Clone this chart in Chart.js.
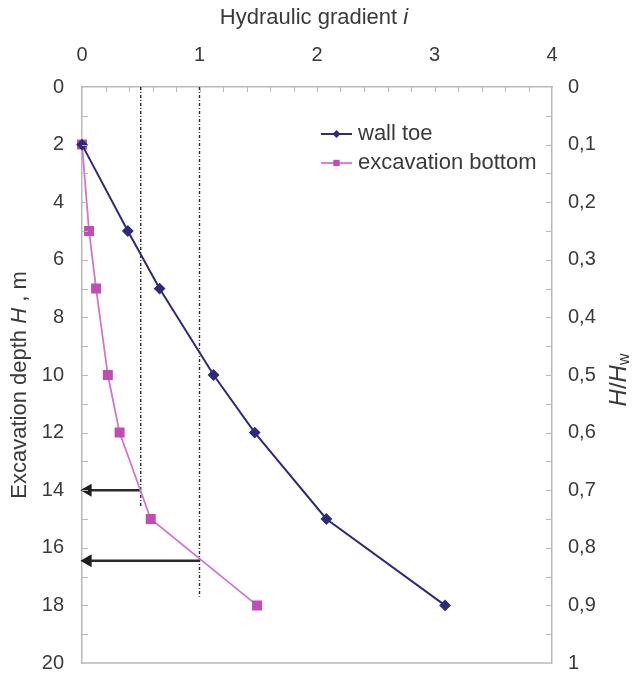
<!DOCTYPE html>
<html>
<head>
<meta charset="utf-8">
<script src="https://cdn.jsdelivr.net/npm/chart.js@4/dist/chart.umd.min.js"></script>
<style>
  body { margin: 0; background: #fff; }
  #wrap { width: 632px; height: 677px; position: relative; }
</style>
</head>
<body>
<div id="wrap"><canvas id="chart"></canvas></div>
<script>
// excavation depth H (m) for each measured stage
const depth = [2, 5, 7, 10, 12, 15, 18];
// hydraulic gradient i
const wallToe = [0, 0.39, 0.66, 1.12, 1.47, 2.08, 3.09];
const excBottom = [0, 0.06, 0.12, 0.22, 0.32, 0.585, 1.49];

// critical gradients (dash-dot lines) and where they stop
const refGradient = [0.5, 1];
const refEnd = [14.6, 17.7];
// arrows read back to the depth axis
const arrowDepth = [14, 16.45];
const arrowTip = 0.05;

const seriesNames = ["wall toe", "excavation bottom"];

const FONT = "'Liberation Sans', Arial, sans-serif";
const textColor = "#3a3a3a";
const axisColor = "#b8b8b8";
const navy = "#2e2a7c";
const pink = "#cf78c8";
const pinkMark = "#c04db5";

const pts = (xs) => depth.map((d, k) => ({ x: xs[k], y: d }));

const datasets = [
  {
    label: seriesNames[0],
    data: pts(wallToe),
    borderColor: navy,
    backgroundColor: navy,
    borderWidth: 2,
    pointStyle: "rectRot",
    pointRadius: 4.5,
    pointBackgroundColor: navy,
    pointBorderColor: navy,
    clip: false
  },
  {
    label: seriesNames[1],
    data: pts(excBottom),
    borderColor: pink,
    backgroundColor: pinkMark,
    borderWidth: 1.8,
    pointStyle: "rect",
    pointRadius: 5.8,
    pointBackgroundColor: pinkMark,
    pointBorderColor: pinkMark,
    clip: false
  }
];

// dash-dot reference lines
refGradient.forEach((g, k) => {
  datasets.push({
    label: "ref" + k,
    data: [{ x: g, y: 0 }, { x: g, y: refEnd[k] }],
    borderColor: "#2a2a2a",
    borderWidth: 1.4,
    borderDash: [3, 2, 1, 2],
    pointRadius: 0
  });
});

// arrows
arrowDepth.forEach((d, k) => {
  datasets.push({
    label: "arrow" + k,
    data: [{ x: refGradient[k], y: d }, { x: arrowTip, y: d }],
    borderColor: "#2a2a2a",
    backgroundColor: "#1e1e1e",
    borderWidth: 2.5,
    pointStyle: "triangle",
    pointRotation: -90,
    pointRadius: [0, 5],
    pointBackgroundColor: "#1e1e1e",
    pointBorderColor: "#1e1e1e",
    clip: false
  });
});

// draws text pieces of different fonts on one line, centred at (cx, cy)
function richText(ctx, parts, cx, cy) {
  let total = 0;
  parts.forEach(p => { ctx.font = p.font; p.w = ctx.measureText(p.t).width; total += p.w; });
  let x = cx - total / 2;
  ctx.textAlign = "left";
  ctx.textBaseline = "middle";
  parts.forEach(p => {
    ctx.font = p.font;
    ctx.fillText(p.t, x, cy + (p.dy || 0));
    x += p.w;
  });
}

const frame = {
  id: "frame",
  afterDraw(chart) {
    const { ctx, chartArea: a, scales } = chart;
    const x = scales.x, y = scales.y;
    ctx.save();
    ctx.strokeStyle = axisColor;
    ctx.lineWidth = 1;
    // minor inner ticks on top axis
    for (let v = 0.2; v < 3.99; v += 0.2) {
      const px = Math.round(x.getPixelForValue(v)) + 0.5;
      ctx.beginPath(); ctx.moveTo(px, a.top); ctx.lineTo(px, a.top + 5); ctx.stroke();
    }
    // inner ticks on both depth axes
    for (let d = 1; d < 20; d++) {
      const py = Math.round(y.getPixelForValue(d)) + 0.5;
      ctx.beginPath(); ctx.moveTo(a.left, py); ctx.lineTo(a.left + 6, py); ctx.stroke();
      ctx.beginPath(); ctx.moveTo(a.right - 6, py); ctx.lineTo(a.right, py); ctx.stroke();
    }
    // bottom border
    ctx.lineWidth = 1.5;
    ctx.beginPath(); ctx.moveTo(a.left, a.bottom); ctx.lineTo(a.right, a.bottom); ctx.stroke();

    // axis titles
    ctx.fillStyle = textColor;
    const reg = "22px " + FONT, ita = "italic 22px " + FONT;
    richText(ctx, [{ t: "Hydraulic gradient ", font: reg }, { t: "i", font: ita }], 314, 18);

    ctx.save();
    ctx.translate(20, 385);
    ctx.rotate(-Math.PI / 2);
    richText(ctx, [{ t: "Excavation depth ", font: reg }, { t: "H", font: ita }, { t: " , m", font: reg }], 0, 0);
    ctx.restore();

    ctx.save();
    ctx.translate(619, 380);
    ctx.rotate(-Math.PI / 2);
    richText(ctx, [
      { t: "H", font: "italic 24px " + FONT }, { t: "/", font: "24px " + FONT }, { t: "H", font: "italic 24px " + FONT },
      { t: "w", font: "16px " + FONT, dy: 6 }
    ], 0, 0);
    ctx.restore();

    // legend
    const rows = [134, 163];
    [0, 1].forEach(k => {
      const ds = chart.data.datasets[k];
      const yy = rows[k];
      ctx.strokeStyle = ds.borderColor;
      ctx.lineWidth = ds.borderWidth;
      ctx.beginPath(); ctx.moveTo(321, yy); ctx.lineTo(352, yy); ctx.stroke();
      ctx.fillStyle = ds.pointBackgroundColor;
      Chart.helpers.drawPoint(ctx, { pointStyle: ds.pointStyle, radius: k ? 4.5 : 4, rotation: 0, borderWidth: 0 }, 336.5, yy);
      ctx.fillStyle = textColor;
      ctx.font = "22px " + FONT;
      ctx.textAlign = "left";
      ctx.textBaseline = "middle";
      ctx.fillText(seriesNames[k], 358, yy);
    });
    ctx.restore();
  }
};

const tickFont = { family: FONT, size: 20 };

// fixed box sizes so the plot area sits where the reference has it
function fixWidth(w) {
  return (s) => { s.width = w; s.paddingTop = 0; s.paddingBottom = 0; };
}

new Chart(document.getElementById("chart"), {
  type: "line",
  data: { datasets },
  plugins: [frame],
  options: {
    responsive: true,
    maintainAspectRatio: false,
    animation: false,
    layout: { padding: { top: 0, left: 0, right: 0, bottom: 14 } },
    plugins: { legend: { display: false }, tooltip: { enabled: false } },
    scales: {
      x: {
        type: "linear",
        position: "top",
        min: 0, max: 4,
        ticks: { stepSize: 1, color: textColor, font: tickFont, padding: 20 },
        grid: { display: false, drawTicks: false },
        border: { display: true, color: axisColor, width: 1.5 },
        afterFit: (s) => { s.height = 87; s.paddingLeft = 0; s.paddingRight = 0; }
      },
      y: {
        type: "linear",
        position: "left",
        reverse: true,
        min: 0, max: 20,
        ticks: { stepSize: 2, color: textColor, font: tickFont, padding: 18 },
        grid: { display: false, drawTicks: false },
        border: { display: true, color: axisColor, width: 1.5 },
        afterFit: fixWidth(82)
      },
      y2: {
        type: "linear",
        position: "right",
        reverse: true,
        min: 0, max: 1,
        ticks: {
          stepSize: 0.1, color: textColor, font: tickFont, padding: 16,
          callback: (v) => (v === 0 || v === 1) ? String(v) : v.toFixed(1).replace(".", ",")
        },
        grid: { display: false, drawTicks: false },
        border: { display: true, color: axisColor, width: 1.5 },
        afterFit: fixWidth(80)
      }
    }
  }
});
</script>
</body>
</html>
